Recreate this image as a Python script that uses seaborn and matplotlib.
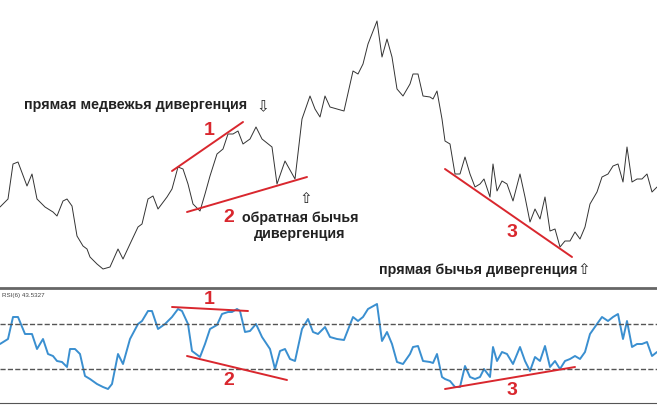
import matplotlib

matplotlib.use("Agg")
import matplotlib.pyplot as plt
import seaborn as sns

# price series (x position, level)
price_x = [0, 8, 13, 18, 27, 32, 37, 45, 53, 57, 63, 67, 72, 77, 83, 87, 90, 97, 103, 110,
           118, 123, 130, 138, 142, 148, 153, 158, 167, 172, 178, 183, 188, 193, 200, 205, 210,
           217, 223, 228, 233, 238, 243, 250, 256, 262, 272, 277, 285, 295, 302, 310, 315, 320,
           325, 330, 337, 344, 353, 358, 363, 368, 377, 382, 387, 392, 397, 403, 410, 413, 418,
           423, 430, 433, 437, 442, 445, 450, 455, 460, 465, 470, 475, 480, 484, 490, 493, 497,
           502, 507, 513, 520, 525, 530, 535, 540, 545, 550, 555, 560, 565, 570, 575, 580, 585,
           590, 597, 602, 608, 613, 618, 623, 627, 632, 637, 642, 647, 652, 657]
price_y = [92, 100, 135, 137, 113, 125, 100, 92, 87, 83, 98, 100, 93, 63, 53, 50, 42, 35, 30, 32,
           50, 40, 55, 72, 75, 100, 103, 90, 102, 110, 132, 130, 115, 95, 88, 105, 123,
           145, 150, 165, 165, 168, 155, 160, 172, 160, 152, 115, 138, 120, 180, 203, 190, 182,
           203, 192, 190, 188, 228, 225, 235, 255, 278, 242, 260, 242, 210, 203, 215, 225, 225,
           203, 202, 200, 208, 180, 158, 155, 125, 125, 142, 125, 112, 115, 120, 102, 135, 108,
           118, 115, 98, 125, 102, 77, 90, 80, 102, 68, 70, 52, 58, 58, 67, 60, 72,
           95, 107, 122, 125, 133, 135, 117, 152, 117, 120, 120, 125, 107, 112]

# RSI(6) series
rsi_x = [0, 8, 13, 18, 25, 32, 37, 43, 48, 53, 57, 62, 67, 70, 75, 80, 85, 90, 97, 103,
         108, 112, 118, 123, 130, 138, 142, 148, 152, 158, 165, 172, 178, 182, 188, 192, 200,
         205, 210, 217, 222, 228, 232, 237, 240, 245, 250, 256, 262, 270, 275, 280, 285, 290,
         295, 302, 308, 313, 318, 325, 330, 337, 344, 353, 358, 363, 368, 377, 382, 387, 392,
         397, 403, 410, 413, 418, 423, 430, 433, 437, 442, 445, 450, 455, 460, 465, 470, 475,
         480, 484, 490, 493, 497, 502, 507, 513, 520, 525, 530, 535, 540, 545, 550, 555, 560,
         565, 570, 575, 580, 585, 590, 597, 602, 608, 613, 618, 623, 627, 632, 637, 642, 647,
         652, 657]
rsi_y = [61, 66, 88, 88, 71, 71, 56, 66, 51, 49, 44, 43, 38, 56, 56, 51, 29, 26, 21, 18,
         16, 21, 51, 41, 66, 81, 84, 94, 94, 76, 81, 88, 96, 94, 81, 54, 48,
         61, 76, 80, 91, 93, 93, 96, 94, 73, 74, 81, 68, 56, 36, 54, 56, 46,
         44, 76, 86, 73, 71, 78, 68, 66, 65, 88, 84, 88, 96, 101, 64, 73, 61,
         43, 41, 51, 58, 59, 44, 43, 42, 51, 28, 26, 24, 18, 18, 39, 28, 26,
         28, 36, 28, 58, 44, 53, 51, 41, 58, 44, 34, 48, 44, 59, 38, 44, 36,
         44, 46, 49, 46, 53, 71, 81, 88, 84, 88, 91, 66, 84, 58, 61, 61, 63,
         49, 53]

rsi_levels = [81, 36]

# divergence trend lines: (x0, y0, x1, y1)
price_trends = [(172, 128, 243, 177), (187, 87, 307, 122), (445, 130, 572, 42)]
rsi_trends = [(172, 98, 248, 94), (187, 49, 287, 25), (445, 16, 575, 38)]
price_nums = [("1", 209, 169), ("2", 229, 82), ("3", 512, 67)]
rsi_nums = [("1", 209, 106), ("2", 229, 25), ("3", 512, 15)]

RED = "#d9272e"
TXT = "#222222"


def main() -> None:
    sns.set_style("white")
    plt.rcParams["font.family"] = ["Liberation Sans", "DejaVu Sans"]
    fig = plt.figure(figsize=(6.57, 4.06), dpi=100)
    ax1 = fig.add_axes([0, 117 / 406, 1, 289 / 406])
    ax2 = fig.add_axes([0, 2 / 406, 1, 115 / 406])

    sns.lineplot(x=price_x, y=price_y, ax=ax1, color="#333333", lw=0.7)
    sns.lineplot(x=rsi_x, y=rsi_y, ax=ax2, color="#3a8fd0", lw=1.4)

    ax1.set_xlim(0, 657)
    ax1.set_ylim(11, 300)
    ax2.set_xlim(0, 657)
    ax2.set_ylim(2, 117)
    for ax in (ax1, ax2):
        ax.set_xticks([])
        ax.set_yticks([])
        for s in ax.spines.values():
            s.set_visible(False)
    ax2.spines["top"].set_visible(True)
    ax2.spines["top"].set_color("#666666")
    ax2.spines["top"].set_linewidth(2)
    ax2.spines["bottom"].set_visible(True)
    ax2.spines["bottom"].set_color("#555555")
    ax2.set_xticks(range(38, 657, 38))
    ax2.tick_params(axis="x", length=3, color="#555555", labelbottom=False, direction="in")

    for lvl in rsi_levels:
        ax2.axhline(lvl, color="#555555", ls="--", lw=1)

    for x0, y0, x1, y1 in price_trends:
        ax1.plot([x0, x1], [y0, y1], color=RED, lw=1.4)
    for x0, y0, x1, y1 in rsi_trends:
        ax2.plot([x0, x1], [y0, y1], color=RED, lw=1.4)
    for t, x, y in price_nums:
        ax1.text(x, y, t, color=RED, fontsize=14, fontweight="bold", ha="center", va="center")
    for t, x, y in rsi_nums:
        ax2.text(x, y, t, color=RED, fontsize=14, fontweight="bold", ha="center", va="center")

    kw = dict(color=TXT, fontsize=10.3, fontweight="bold", va="center")
    ax1.text(136, 195, "прямая медвежья дивергенция", ha="center", **kw)
    ax1.text(263, 193, "⇩", ha="center", family="DejaVu Sans", color=TXT, fontsize=11, va="center")
    ax1.text(306, 101, "⇧", ha="center", family="DejaVu Sans", color=TXT, fontsize=11, va="center")
    ax1.text(300, 74, "обратная бычья\nдивергенция", ha="center", linespacing=1.1, **kw)
    ax1.text(478, 30, "прямая бычья дивергенция", ha="center", **kw)
    ax1.text(584, 30, "⇧", ha="center", family="DejaVu Sans", color=TXT, fontsize=11, va="center")
    ax2.text(2, 111, "RSI(6) 43.5327", fontsize=4.5, color="#444444", va="center")

    fig.savefig("out.png", dpi=100)


if __name__ == "__main__":
    main()
